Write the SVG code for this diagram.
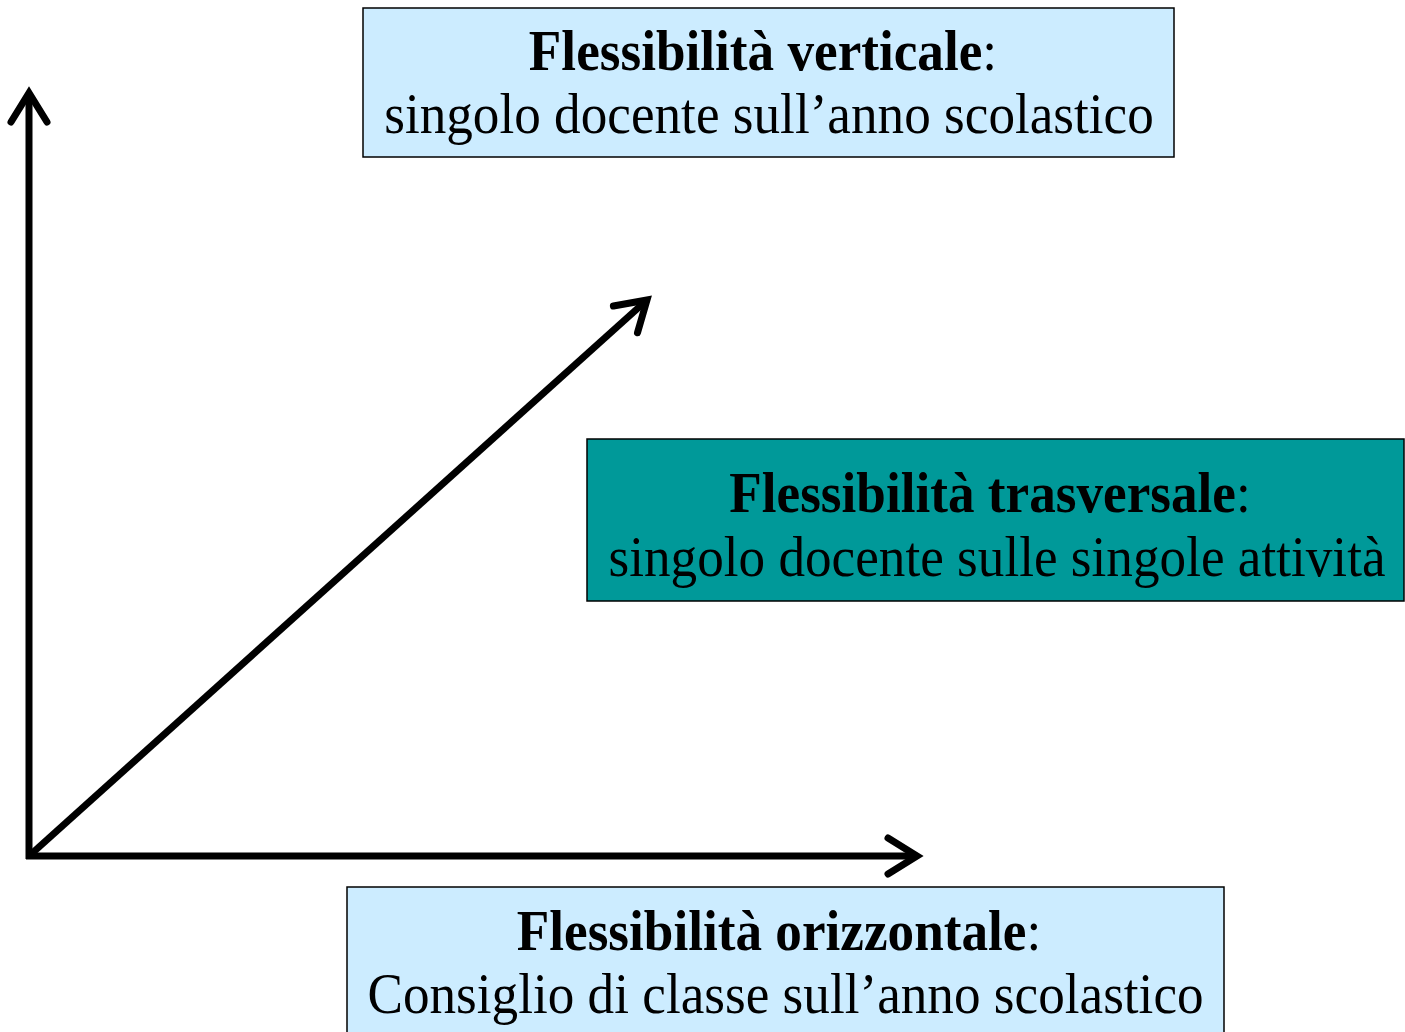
<svg xmlns="http://www.w3.org/2000/svg" width="1405" height="1032" viewBox="0 0 1405 1032">
<style>
.box{stroke:#000;stroke-width:1.5}
.light{fill:#CCECFF}
.teal{fill:#009999}
text{font-family:"Liberation Serif","Times New Roman",serif;font-size:56px;fill:#000;text-anchor:middle}
.b{font-weight:bold}
.ax{fill:none;stroke:#000;stroke-width:7;marker-end:url(#chev)}
</style>
<defs>
<marker id="chev" markerUnits="userSpaceOnUse" orient="auto" viewBox="-40 -30 50 60" refX="0" refY="0" markerWidth="50" markerHeight="60" overflow="visible">
<path d="M-29,-18 L0,0 L-29,18" fill="none" stroke="#000" stroke-width="7" stroke-linecap="round" stroke-linejoin="miter"/>
</marker>
</defs>
<rect width="1405" height="1032" fill="#fff"/>
<g id="connectors">
<path class="ax" d="M29,859 L29,93"/>
<path class="ax" d="M26,856 L917,856"/>
<path class="ax" d="M29,856 L647,300"/>
</g>
<g id="node-verticale">
<rect class="box light" x="363" y="8" width="811" height="149"/>
<text transform="translate(763,70) scale(0.95,1)"><tspan class="b">Flessibilità verticale</tspan>:</text>
<text transform="translate(769,133) scale(0.95,1)">singolo docente sull’anno scolastico</text>
</g>
<g id="node-trasversale">
<rect class="box teal" x="587" y="439" width="817" height="162"/>
<text transform="translate(990,512) scale(0.95,1)"><tspan class="b">Flessibilità trasversale</tspan>:</text>
<text transform="translate(997,576) scale(0.95,1)">singolo docente sulle singole attività</text>
</g>
<g id="node-orizzontale">
<rect class="box light" x="347" y="887" width="877" height="160"/>
<text transform="translate(779,950) scale(0.95,1)"><tspan class="b">Flessibilità orizzontale</tspan>:</text>
<text transform="translate(785.5,1013) scale(0.95,1)">Consiglio di classe sull’anno scolastico</text>
</g>
</svg>
